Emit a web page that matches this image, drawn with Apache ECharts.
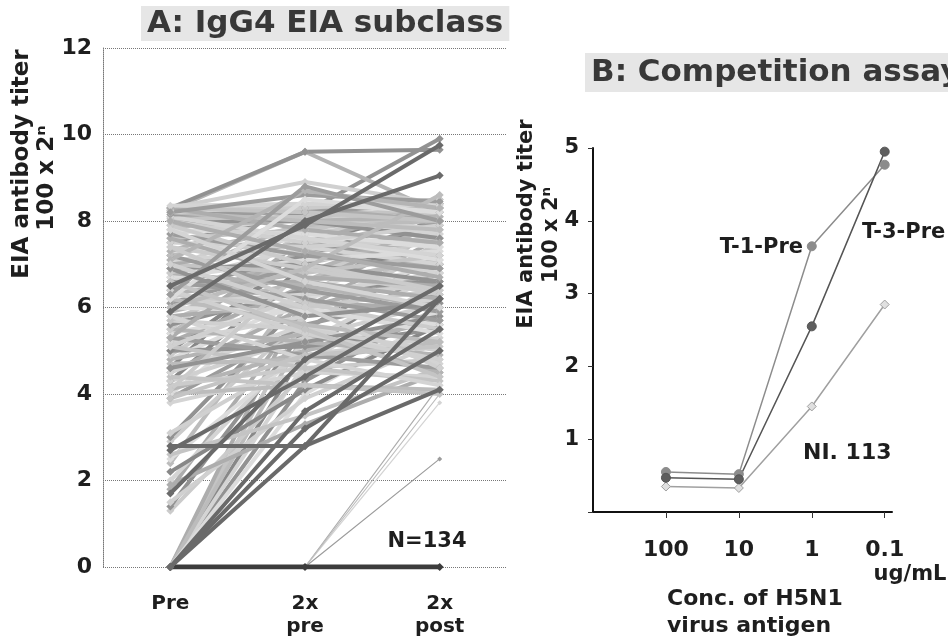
<!DOCTYPE html>
<html>
<head>
<meta charset="utf-8">
<script src="https://cdn.jsdelivr.net/npm/echarts@6/dist/echarts.min.js"></script>
<style>
  html, body { margin: 0; padding: 0; background: #fff; }
  #chart { width: 948px; height: 638px; }
</style>
</head>
<body>
<div id="chart"></div>
<script>
// panel A: IgG4 titres per subject (log2 units), 134 subjects
const visits = ['Pre', '2x\npre', '2x\npost'];

const titerPre = [
  0, 0, 0, 0, 0, 0, 0, 0, 0, 0, 0, 0, 0, 0, 0, 0,
  2.8, 1.3, 1.4, 1.5, 1.7, 1.8, 2.0, 2.2, 2.4, 2.5, 2.7, 2.9, 3.0, 3.1, 2.6, 1.9,
  3.8, 3.9, 4.0, 4.0, 4.1, 4.2, 4.3, 4.3, 4.4, 4.5, 4.5, 4.6, 4.7, 4.8, 4.8, 4.9, 5.0, 5.0,
  5.1, 5.2, 5.2, 5.3, 5.4, 5.4, 5.5, 5.5, 5.6, 5.7, 5.7, 5.8, 5.8, 5.9, 5.9, 6.0, 6.0, 4.1,
  4.6, 5.1, 3.9, 5.3,
  6.1, 6.1, 6.2, 6.2, 6.3, 6.3, 6.4, 6.4, 6.5, 6.5, 6.6, 6.6, 6.7, 6.7, 6.8, 6.8, 6.9, 6.9,
  7.0, 7.0, 7.1, 7.2, 7.2, 7.3, 7.3, 7.4, 7.5, 7.5, 7.6, 7.6, 7.7, 7.7, 7.8, 7.8, 7.9, 7.9,
  8.0, 8.0, 8.05, 8.1, 8.1, 8.15, 8.2, 8.2, 8.25, 8.25, 8.3, 8.3, 8.3, 8.3, 8.35, 8.2,
  6.0, 6.2, 7.1, 7.4, 6.9, 7.0, 6.6, 8.0, 7.8, 6.3
];
const titer2xPre = [
  0, 0, 0, 0, 0, 2.75, 2.8, 3.6, 4.3, 5.0, 5.8, 6.3, 4.7, 3.2, 5.4, 4.0,
  2.8, 4.5, 5.5, 3.9, 4.8, 6.0, 5.2, 4.1, 6.6, 5.0, 4.4, 5.8, 6.2, 4.9, 3.5, 3.3,
  4.5, 5.6, 4.2, 6.4, 5.0, 4.6, 7.0, 5.3, 4.2, 6.0, 5.6, 7.5, 4.8, 6.2, 5.4, 6.8, 5.1, 7.2,
  4.6, 6.5, 5.8, 4.9, 7.4, 6.0, 5.2, 7.8, 6.4, 5.5, 7.0, 6.1, 4.8, 8.0, 6.6, 5.9, 7.3, 6.9,
  5.2, 6.3, 4.9, 7.6,
  6.3, 7.0, 5.6, 7.6, 6.8, 6.0, 7.2, 5.4, 7.9, 6.6, 7.4, 6.2, 8.0, 7.1, 6.5, 7.7, 7.0, 8.2,
  6.8, 7.5, 7.3, 6.4, 7.9, 7.6, 8.3, 6.9, 8.2, 7.4, 7.8, 6.7, 8.1, 7.2, 8.4, 7.7, 8.0, 7.0,
  8.0, 7.5, 8.1, 8.3, 7.6, 8.2, 8.0, 8.4, 9.6, 8.3, 9.6, 8.9, 8.2, 7.8, 8.4, 8.6,
  6.9, 8.5, 8.7, 6.1, 5.8, 6.0, 5.5, 7.3, 6.6, 8.8
];
const titer2xPost = [
  0, 4.2, 3.8, 2.5, 4.0, 4.1, 6.2, 5.5, 6.0, 7.0, 7.5, 7.8, 6.6, 5.0, 8.0, 5.8,
  4.1, 6.0, 7.2, 5.2, 6.5, 7.6, 6.8, 5.6, 8.0, 5.9, 6.2, 7.4, 8.2, 5.3, 4.6, 4.5,
  4.4, 6.3, 4.1, 7.3, 5.7, 4.8, 7.9, 6.1, 4.0, 6.8, 4.7, 8.3, 5.2, 7.0, 4.5, 7.6, 5.5, 7.0,
  4.3, 8.0, 6.2, 4.6, 8.1, 5.4, 4.9, 8.4, 6.6, 5.0, 7.7, 6.0, 4.2, 9.05, 7.1, 5.6, 7.5, 6.4,
  5.8, 6.5, 5.1, 6.9,
  6.8, 8.0, 5.2, 7.4, 7.9, 6.4, 8.2, 4.8, 9.75, 6.2, 7.0, 5.7, 8.3, 7.3, 6.0, 8.1, 6.6, 7.8,
  7.2, 8.4, 6.8, 5.9, 8.0, 7.1, 8.5, 6.3, 9.9, 7.6, 8.2, 6.5, 7.7, 6.9, 8.3, 7.4, 8.1, 6.4,
  7.6, 7.9, 8.3, 8.0, 7.2, 8.4, 7.8, 8.2, 8.2, 8.5, 9.65, 8.4, 8.0, 7.5, 8.35, 8.45,
  8.6, 8.2, 8.3, 5.5, 6.1, 4.6, 4.4, 6.7, 6.0, 8.0
];

// panel B: competition assay
const concLabels = ['100', '10', '1', '0.1'];
const t1Pre = [0.55, 0.52, 3.65, 4.77];
const t3Pre = [0.47, 0.45, 2.55, 4.95];
const ni113 = [0.35, 0.33, 1.45, 2.85];

const FONT = '"DejaVu Sans", Arial, sans-serif';
const INK = '#1e1e1e';

const grays = ['#c4c4c4', '#adadad', '#d4d4d4', '#9c9c9c', '#bcbcbc',
               '#dcdcdc', '#b4b4b4', '#cbcbcb', '#929292', '#d0d0d0'];
const darkOnes = [0, 6, 7, 13, 16, 20, 26, 63, 80];
const midOnes = [38, 43, 49, 9, 23];

const chart = echarts.init(document.getElementById('chart'));

const seriesA = titerPre.map((v, i) => {
  const dark = darkOnes.indexOf(i) >= 0;
  const mid = midOnes.indexOf(i) >= 0;
  const c = dark ? (i === 0 ? '#3c3c3c' : '#6a6a6a') : (mid ? '#888' : grays[i % grays.length]);
  const thin = i >= 1 && i <= 5;
  return {
    type: 'line',
    xAxisIndex: 0,
    yAxisIndex: 0,
    data: [v, titer2xPre[i], titer2xPost[i]],
    symbol: 'diamond',
    symbolSize: thin ? 5 : 8,
    itemStyle: { color: c },
    lineStyle: { color: c, width: i === 0 ? 5 : (thin ? 1.2 : 4) },
    z: dark ? 3 : 2,
    silent: true,
    animation: false
  };
});

const mkB = (arr, color, border, sym) => ({
  type: 'line',
  xAxisIndex: 1,
  yAxisIndex: 1,
  data: arr.map((v, i) => [i + 1, v]),
  symbol: sym,
  symbolSize: 9,
  itemStyle: { color: color, borderColor: border, borderWidth: 1 },
  lineStyle: { color: border, width: 1.5 },
  animation: false
});

const titleStyle = { fontFamily: FONT, fontSize: 31, fontWeight: 'bold', color: '#383838' };

const option = {
  backgroundColor: '#fff',
  title: [
    {
      text: 'A: IgG4 EIA subclass',
      left: 141, top: 6,
      padding: [2, 6],
      backgroundColor: '#e6e6e6',
      textStyle: titleStyle
    },
    {
      text: 'B: Competition assay',
      left: 585, top: 53,
      padding: [4, 6],
      backgroundColor: '#e6e6e6',
      textStyle: titleStyle
    }
  ],
  grid: [
    { left: 103, top: 48, width: 404, height: 519 },
    { left: 593, top: 148, width: 299, height: 364 }
  ],
  xAxis: [
    {
      type: 'category', gridIndex: 0, data: visits, boundaryGap: true,
      axisLine: { show: false }, axisTick: { show: false },
      axisLabel: { fontFamily: FONT, fontSize: 20, fontWeight: 'bold', color: INK, margin: 25, lineHeight: 23 }
    },
    {
      type: 'value', gridIndex: 1, min: 0, max: 4.1,
      splitLine: { show: false },
      axisLine: { show: true, onZero: false, lineStyle: { color: '#111', width: 2 } },
      axisTick: { show: true, customValues: [1, 2, 3, 4], length: 6, lineStyle: { color: '#333' } },
      axisLabel: {
        customValues: [1, 2, 3, 4],
        formatter: v => concLabels[Math.round(v) - 1] || '',
        fontFamily: FONT, fontSize: 22, fontWeight: 'bold', color: INK, margin: 27
      }
    }
  ],
  yAxis: [
    {
      type: 'value', gridIndex: 0, min: 0, max: 12, interval: 2,
      axisLine: { show: true, lineStyle: { color: '#777', type: 'dotted' } },
      axisTick: { show: false },
      splitLine: { show: true, lineStyle: { color: '#777', type: 'dotted' } },
      axisLabel: { fontFamily: FONT, fontSize: 22, fontWeight: 'bold', color: INK, margin: 11 }
    },
    {
      type: 'value', gridIndex: 1, min: 0, max: 5, interval: 1,
      axisLine: { show: true, lineStyle: { color: '#111', width: 2 } },
      axisTick: { show: true, length: 5, lineStyle: { color: '#333' } },
      splitLine: { show: false },
      axisLabel: {
        formatter: v => (v === 0 ? '' : String(v)),
        fontFamily: FONT, fontSize: 21, fontWeight: 'bold', color: INK, margin: 14
      }
    }
  ],
  graphic: [
    { type: 'text', x: 22, y: 164, rotation: Math.PI / 2,
      style: { text: 'EIA antibody titer', font: 'bold 23px ' + FONT, fill: INK, align: 'center', verticalAlign: 'middle' } },
    { type: 'text', x: 47, y: 178, rotation: Math.PI / 2,
      style: { text: '100 x 2ⁿ', font: 'bold 23px ' + FONT, fill: INK, align: 'center', verticalAlign: 'middle' } },
    { type: 'text', x: 427, y: 542,
      style: { text: 'N=134', font: 'bold 21px ' + FONT, fill: INK, align: 'center', verticalAlign: 'middle' } },
    { type: 'text', x: 527, y: 224, rotation: Math.PI / 2,
      style: { text: 'EIA antibody titer', font: 'bold 21px ' + FONT, fill: INK, align: 'center', verticalAlign: 'middle' } },
    { type: 'text', x: 552, y: 235, rotation: Math.PI / 2,
      style: { text: '100 x 2ⁿ', font: 'bold 21px ' + FONT, fill: INK, align: 'center', verticalAlign: 'middle' } },
    { type: 'text', x: 803, y: 248,
      style: { text: 'T-1-Pre', font: 'bold 21px ' + FONT, fill: INK, align: 'right', verticalAlign: 'middle' } },
    { type: 'text', x: 862, y: 233,
      style: { text: 'T-3-Pre', font: 'bold 21px ' + FONT, fill: INK, align: 'left', verticalAlign: 'middle' } },
    { type: 'text', x: 803, y: 453,
      style: { text: 'NI. 113', font: 'bold 22px ' + FONT, fill: INK, align: 'left', verticalAlign: 'middle' } },
    { type: 'text', x: 910, y: 575,
      style: { text: 'ug/mL', font: 'bold 21px ' + FONT, fill: INK, align: 'center', verticalAlign: 'middle' } },
    { type: 'text', x: 667, y: 599,
      style: { text: 'Conc. of H5N1', font: 'bold 22px ' + FONT, fill: INK, align: 'left', verticalAlign: 'middle' } },
    { type: 'text', x: 667, y: 626,
      style: { text: 'virus antigen', font: 'bold 22px ' + FONT, fill: INK, align: 'left', verticalAlign: 'middle' } }
  ],
  series: seriesA.concat([
    mkB(ni113, '#e0e0e0', '#a0a0a0', 'diamond'),
    mkB(t1Pre, '#8c8c8c', '#8c8c8c', 'circle'),
    mkB(t3Pre, '#5e5e5e', '#555', 'circle')
  ])
};

option && chart.setOption(option);
</script>
</body>
</html>
